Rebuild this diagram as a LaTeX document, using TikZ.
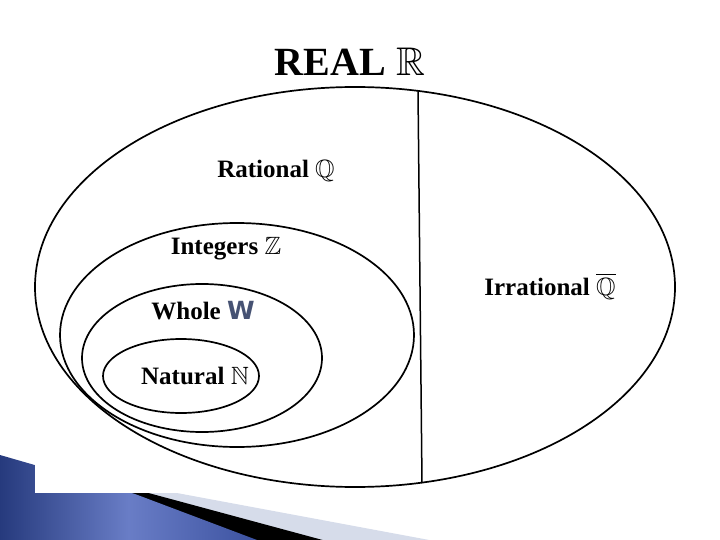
\documentclass[tikz,border=0pt]{standalone}
\usepackage{amssymb}
\usepackage{fontspec}
\setmainfont{Liberation Serif}
\newfontfamily\wfont{DejaVu Sans}
\definecolor{navy}{RGB}{38,58,125}
\definecolor{midblue}{RGB}{105,125,198}
\definecolor{rblue}{RGB}{60,82,160}
\definecolor{lgray}{RGB}{214,220,234}
\definecolor{wcol}{RGB}{70,82,115}
\tikzset{
  setline/.style={line width=1.7pt, black},
  lbl/.style={inner sep=0pt, font=\fontsize{25}{29}\selectfont\bfseries},
}
\begin{document}
\begin{tikzpicture}[x=1pt,y=-1pt]
\useasboundingbox (0,0) rectangle (720,540);
% slide decoration
\fill[lgray] (150,488) -- (440,542) -- (320,542) -- (130,488) -- cycle;
\fill[black] (130,488) -- (330,542) -- (250,542) -- (110,488) -- cycle;
\shade[left color=navy, right color=rblue, middle color=midblue]
  (0,455) -- (135,494) -- (257,540) -- (0,540) -- cycle;
\fill[white] (35,0) rectangle (720,493);
% sets
\draw[setline] (355,287) ellipse [x radius=320, y radius=200];
\draw[setline] (237,335) ellipse [x radius=177, y radius=112];
\draw[setline] (202,358) ellipse [x radius=120, y radius=74];
\draw[setline] (181,376) ellipse [x radius=78, y radius=37];
\coordinate (vtop) at (418,91);
\coordinate (vbot) at (422,483);
\draw[line width=1.5pt] (vtop) -- (vbot);
% labels
\node[inner sep=0pt, font=\fontsize{40}{48}\selectfont\bfseries] (real) at (350,62) {REAL $\mathbb{R}$};
\node[lbl] (rat) at (276,171) {Rational $\mathbb{Q}$};
\node[lbl] (int) at (226,249) {Integers $\mathbb{Z}$};
\node[lbl] (whole) at (203,311) {Whole {\wfont\bfseries\color{wcol}W}};
\node[lbl] (nat) at (195,376) {Natural $\mathbb{N}$};
\node[lbl] (irr) at (550,286) {Irrational $\overline{\mathbb{Q}}$};
\end{tikzpicture}
\end{document}
